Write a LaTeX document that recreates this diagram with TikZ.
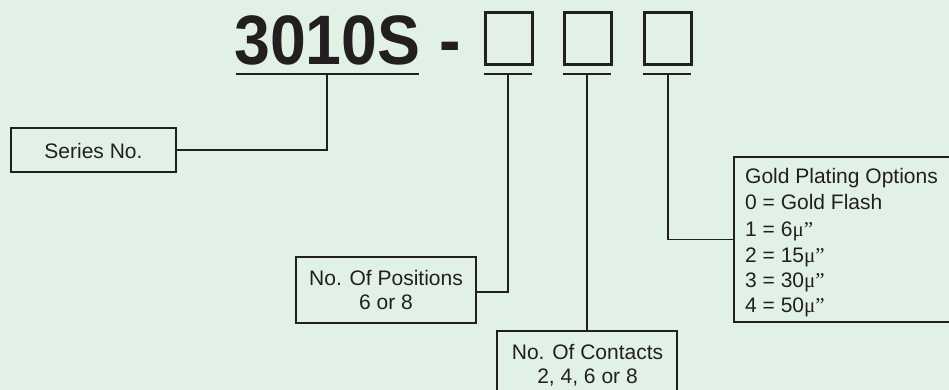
\documentclass[tikz,border=0pt]{standalone}
\usepackage{fontspec}
\setmainfont{Liberation Sans}
\newfontfamily\bigbold{Liberation Sans}[FakeStretch=0.92]
\newfontfamily\serifmu{Liberation Serif}
\definecolor{bg}{HTML}{E1F1E6}
\definecolor{ink}{HTML}{231F20}
\begin{document}
\begin{tikzpicture}[x=1pt,y=-1pt,
  box/.style={draw=ink,line width=1.8pt,inner sep=0pt,outer sep=0pt},
  sq/.style={draw=ink,line width=3pt,minimum width=47pt,minimum height=52pt,inner sep=0pt,outer sep=0pt},
  lbl/.style={text=ink,inner sep=0pt,anchor=base,font=\fontsize{21}{24}\selectfont},
  lbll/.style={lbl,anchor=base west},
  big/.style={text=ink,inner sep=0pt,anchor=base west,font=\bigbold\bfseries\fontsize{70}{80}\selectfont},
  conn/.style={draw=ink,line width=1.8pt},
]
\fill[bg] (0,0) rectangle (949,390);
\useasboundingbox (0,0) rectangle (949,390);
\clip (0,0) rectangle (949,390);

% part number
\node[big] (pn) at (234,65) {3010S};
\node[big] (dash) at (439,65) {-};
\node[sq] (sq1) at (508.5,39) {};
\node[sq] (sq2) at (588,39) {};
\node[sq] (sq3) at (667.5,39) {};

% underlines
\coordinate (ua) at (236,74);  \coordinate (ub) at (419,74);
\coordinate (va) at (484,74);  \coordinate (vb) at (532,74);
\coordinate (wa) at (563,74);  \coordinate (wb) at (611,74);
\coordinate (xa) at (643,74);  \coordinate (xb) at (691,74);
\draw[conn] (ua) -- (ub);
\draw[conn] (va) -- (vb);
\draw[conn] (wa) -- (wb);
\draw[conn] (xa) -- (xb);
\coordinate (u0) at (327,74);
\coordinate (u1) at (508,74);
\coordinate (u2) at (587,74);
\coordinate (u3) at (668,74);

% boxes
\node[box,minimum width=165pt,minimum height=44pt] (series) at (93.5,150) {};
\node[lbl] (seriest) at (93.5,159) {Series No.};

\node[box,minimum width=180pt,minimum height=66pt] (pos) at (386,290) {};
\node[lbl] (post1) at (386,285) {No. Of Positions};
\node[lbl] (post2) at (386,309) {6 or 8};

\node[box,minimum width=180pt,minimum height=66pt] (cont) at (587,364) {};
\node[lbl] (contt1) at (587.5,359) {No. Of Contacts};
\node[lbl] (contt2) at (587.5,383) {2, 4, 6 or 8};

\node[box,minimum width=226pt,minimum height=165pt] (gold) at (847,239.5) {};
\node[lbll] (g0) at (745,183) {Gold Plating Options};
\node[lbll] (g1) at (745,209) {0 = Gold Flash};
\node[lbll] (g2) at (745,236) {1 = 6{\serifmu μ”}};
\node[lbll] (g3) at (745,262) {2 = 15{\serifmu μ”}};
\node[lbll] (g4) at (745,287) {3 = 30{\serifmu μ”}};
\node[lbll] (g5) at (745,312) {4 = 50{\serifmu μ”}};

% connectors
\draw[conn] (series.east) -| (u0);
\draw[conn] ([yshift=-2pt]pos.east) -| (u1);
\draw[conn] (cont.north) -- (u2);
\draw[conn] (gold.west) -| (u3);
\end{tikzpicture}
\end{document}
